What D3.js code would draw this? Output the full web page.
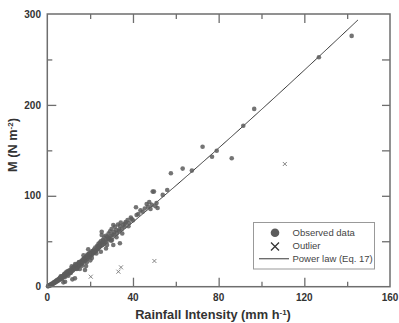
<!DOCTYPE html>
<html>
<head>
<meta charset="utf-8">
<script src="https://cdn.jsdelivr.net/npm/d3@7"></script>
<style>
  body { margin: 0; background: #fff; }
  svg { display: block; font-family: "Liberation Sans", Arial, sans-serif; }
</style>
</head>
<body>
<svg id="chart" width="399" height="323"></svg>
<script>
'use strict';

// observed data (rainfall intensity, M)
var obsR = [0.3,0.5,0.7,0.9,1.1,1.2,1.4,1.6,1.8,2.0,2.1,2.3,2.5,2.7,2.9,3.0,3.2,3.4,3.6,3.8,4.0,4.2,4.4,4.6,4.8,5.0,
    5.3,5.5,5.8,6.0,6.2,6.5,6.7,6.9,7.2,7.4,7.5,7.7,8.0,8.2,8.3,8.4,8.7,9.0,9.2,9.5,9.7,10.0,
    10.2,10.5,10.8,11.0,11.3,11.5,11.7,11.8,12.0,12.3,12.5,12.8,12.9,13.1,13.3,13.6,13.9,14.2,14.5,14.8,15.0,15.2,
    15.5,15.8,16.1,16.4,16.7,17.0,17.3,17.6,17.6,18.0,18.1,18.3,18.6,18.9,19.1,19.4,19.7,20.0,20.3,
    20.6,20.9,21.2,21.5,21.8,22.1,22.4,22.7,23.0,23.3,23.6,23.9,24.2,24.5,24.8,25.1,25.4,25.4,25.7,26.0,26.3,
    26.6,27.0,27.3,27.6,28.0,28.3,28.6,29.0,29.3,29.6,30.0,30.4,30.8,30.8,31.2,31.6,32.1,32.5,33.0,33.4,33.9,33.9,
    34.3,34.8,35.5,36.0,36.6,37.5,38.2,39.0,40.0,41.4,41.7,42.5,43.5,44.5,45.5,46.4,47.0,47.6,48.2,48.8,49.2,49.8,
    50.5,51.0,51.5,53.9,56.0,57.7,63.2,67.5,72.5,76.9,79.1,86.1,91.5,96.6,126.8,142.1,
    6.3,7.9,9.4,10.9,12.6,13.8,14.9,16.2,17.1,18.4,19.6,20.8,21.9,22.9,24.0,25.0,26.2,27.4,28.8,29.8,
    31.0,32.3,33.6,35.0,36.3,37.9,39.4,16.9,20.1,23.6,11.4,14.0,9.8,8.6,24.6,27.9,13.0,21.3,30.2,18.8];
var obsM = [0.4,0.8,1.0,1.5,1.2,1.9,2.0,1.7,2.6,3.1,2.2,2.9,3.6,3.2,4.4,3.8,5.0,4.2,5.4,4.9,6.3,5.5,7.0,6.1,7.6,6.6,
    8.4,7.4,9.5,8.1,10.3,9.0,11.2,8.7,11.8,10.4,4.8,12.9,11.3,13.6,5.5,10.9,14.5,12.8,15.8,13.9,16.7,14.5,
    17.8,15.3,18.6,16.0,19.9,17.2,8.1,20.5,18.0,22.0,19.2,21.6,9.2,23.4,20.1,24.2,21.3,25.5,22.4,26.8,23.6,19.5,
    27.4,24.8,28.9,26.0,30.2,27.6,31.5,28.4,18.4,33.0,22.8,29.9,34.4,31.2,41.1,35.8,32.6,37.0,34.0,
    38.5,35.2,39.3,36.8,41.0,37.5,43.2,39.2,40.6,45.0,41.5,47.2,43.0,48.5,44.8,50.2,56.9,60.5,46.0,51.5,47.4,
    54.0,49.0,56.0,50.8,55.0,52.5,58.5,53.0,61.0,55.5,63.5,57.0,67.9,45.9,60.0,66.0,62.4,59.0,68.5,61.5,66.8,47.8,
    70.5,63.5,67.9,66.0,71.0,73.4,70.0,76.0,73.0,87.4,78.9,80.0,84.0,82.5,86.0,91.0,88.0,93.0,85.5,90.0,104.6,104.6,
    88.5,92.0,86.5,101.0,106.4,124.8,129.9,127.7,154.0,143.0,149.5,141.3,177.0,195.6,252.5,275.9,
    11.5,13.8,17.0,15.2,21.8,19.4,27.0,23.0,30.5,27.0,36.5,31.5,39.0,36.5,44.5,38.5,49.5,42.0,53.5,50.5,
    57.5,54.5,63.0,58.5,69.5,66.5,74.5,34.5,29.0,43.5,22.5,20.0,12.0,15.5,45.8,46.0,25.0,39.0,51.5,35.5];

// outliers
var outR = [20.3, 33.2, 34.4, 50.0, 110.9];
var outM = [11.0, 16.5, 21.3, 28.3, 135.0];

// power law (Eq. 17): M = a * R^b
var lawA = 1.23, lawB = 1.1, lawMax = 145;

var xTicks = [0, 40, 80, 120, 160];
var xMinor = [20, 60, 100, 140];
var yTicks = [0, 100, 200, 300];
var yMinor = [50, 150, 250];

var legendLabels = ["Observed data", "Outlier", "Power law (Eq. 17)"];

var svg = d3.select("#chart");
var plotL = 47.3, plotR = 390, plotT = 14, plotB = 286.7;
var frameColor = "#6e6e6e";

var x = d3.scaleLinear().domain([0, 160]).range([plotL, plotR]);
var y = d3.scaleLinear().domain([0, 300]).range([plotB, plotT]);

// ticks on all sides, pointing inward
function tickSet(axisGen, tr) {
    svg.append("g").attr("transform", tr).call(axisGen)
       .call(g => g.select(".domain").remove())
       .call(g => g.selectAll("line").attr("stroke", frameColor).attr("stroke-width", 1.3))
       .call(g => g.selectAll("text").remove());
}
tickSet(d3.axisBottom(x).tickValues(xTicks.slice(1, -1)).tickSize(-9), "translate(0," + plotB + ")");
tickSet(d3.axisBottom(x).tickValues(xMinor).tickSize(-5), "translate(0," + plotB + ")");
tickSet(d3.axisTop(x).tickValues(xTicks.slice(1, -1)).tickSize(-9), "translate(0," + plotT + ")");
tickSet(d3.axisTop(x).tickValues(xMinor).tickSize(-5), "translate(0," + plotT + ")");
tickSet(d3.axisLeft(y).tickValues(yTicks.slice(1, -1)).tickSize(-9), "translate(" + plotL + ",0)");
tickSet(d3.axisLeft(y).tickValues(yMinor).tickSize(-5), "translate(" + plotL + ",0)");
tickSet(d3.axisRight(y).tickValues(yTicks.slice(1, -1)).tickSize(-8), "translate(" + plotR + ",0)");
tickSet(d3.axisRight(y).tickValues(yMinor).tickSize(-8), "translate(" + plotR + ",0)");

// tick labels
svg.append("g").selectAll("text").data(xTicks).join("text")
   .attr("x", d => x(d)).attr("y", 300.5)
   .attr("text-anchor", "middle")
   .attr("font-size", 10).attr("font-weight", "bold").attr("fill", "#333")
   .text(d => d);
svg.append("g").selectAll("text").data(yTicks).join("text")
   .attr("x", 41).attr("y", d => y(d) + 3.6)
   .attr("text-anchor", "end")
   .attr("font-size", 10).attr("font-weight", "bold").attr("fill", "#333")
   .text(d => d);

// axis titles
var xt = svg.append("text")
   .attr("x", 213).attr("y", 319)
   .attr("text-anchor", "middle")
   .attr("font-size", 12.8).attr("font-weight", "bold").attr("fill", "#333");
xt.append("tspan").text("Rainfall Intensity (mm h");
xt.append("tspan").attr("dy", -4).attr("font-size", 8).text("-1");
xt.append("tspan").attr("dy", 4).text(")");

var yt = svg.append("text")
   .attr("transform", "translate(17,145) rotate(-90)")
   .attr("text-anchor", "middle")
   .attr("font-size", 12.8).attr("font-weight", "bold").attr("fill", "#333");
yt.append("tspan").text("M (N m");
yt.append("tspan").attr("dy", -4).attr("font-size", 8).text("-2");
yt.append("tspan").attr("dy", 4).text(")");

// power law line
var lawData = d3.range(0, lawMax + 0.01, 0.5);
svg.append("path")
   .datum(lawData)
   .attr("fill", "none").attr("stroke", "#333").attr("stroke-width", 1)
   .attr("d", d3.line().x(d => x(d)).y(d => y(lawA * Math.pow(d, lawB))));

// observed points
svg.append("g").selectAll("circle").data(obsR).join("circle")
   .attr("cx", d => x(d)).attr("cy", (d, i) => y(obsM[i]))
   .attr("r", 2.3).attr("fill", "#5c5c5c").attr("fill-opacity", 0.85);

// outliers
var xs = 2;
svg.append("g").selectAll("path").data(outR).join("path")
   .attr("d", (d, i) => {
       var cx = x(d), cy = y(outM[i]);
       return "M" + (cx - xs) + "," + (cy - xs) + "L" + (cx + xs) + "," + (cy + xs) +
              "M" + (cx - xs) + "," + (cy + xs) + "L" + (cx + xs) + "," + (cy - xs);
   })
   .attr("stroke", "#777").attr("stroke-width", 0.9).attr("fill", "none");

// frame
svg.append("rect")
   .attr("x", plotL).attr("y", plotT).attr("width", plotR - plotL).attr("height", plotB - plotT)
   .attr("fill", "none").attr("stroke", frameColor).attr("stroke-width", 1.5);

// legend
var lg = svg.append("g");
lg.append("rect").attr("x", 253.5).attr("y", 222.5).attr("width", 121).attr("height", 46.5)
  .attr("fill", "#fff").attr("stroke", "#999").attr("stroke-width", 1);
lg.append("circle").attr("cx", 275).attr("cy", 232.7).attr("r", 4.3).attr("fill", "#5c5c5c");
lg.append("path").attr("d", "M271,242.5L279,250.5M271,250.5L279,242.5")
  .attr("stroke", "#333").attr("stroke-width", 1.3);
lg.append("line").attr("x1", 259).attr("x2", 289).attr("y1", 258.7).attr("y2", 258.7)
  .attr("stroke", "#666").attr("stroke-width", 1.3);
lg.selectAll("text.lab").data(legendLabels).join("text")
  .attr("class", "lab")
  .attr("x", 292.5).attr("y", (d, i) => 236 + i * 13)
  .attr("font-size", 9.5).attr("fill", "#444")
  .text(d => d);
</script>
</body>
</html>
